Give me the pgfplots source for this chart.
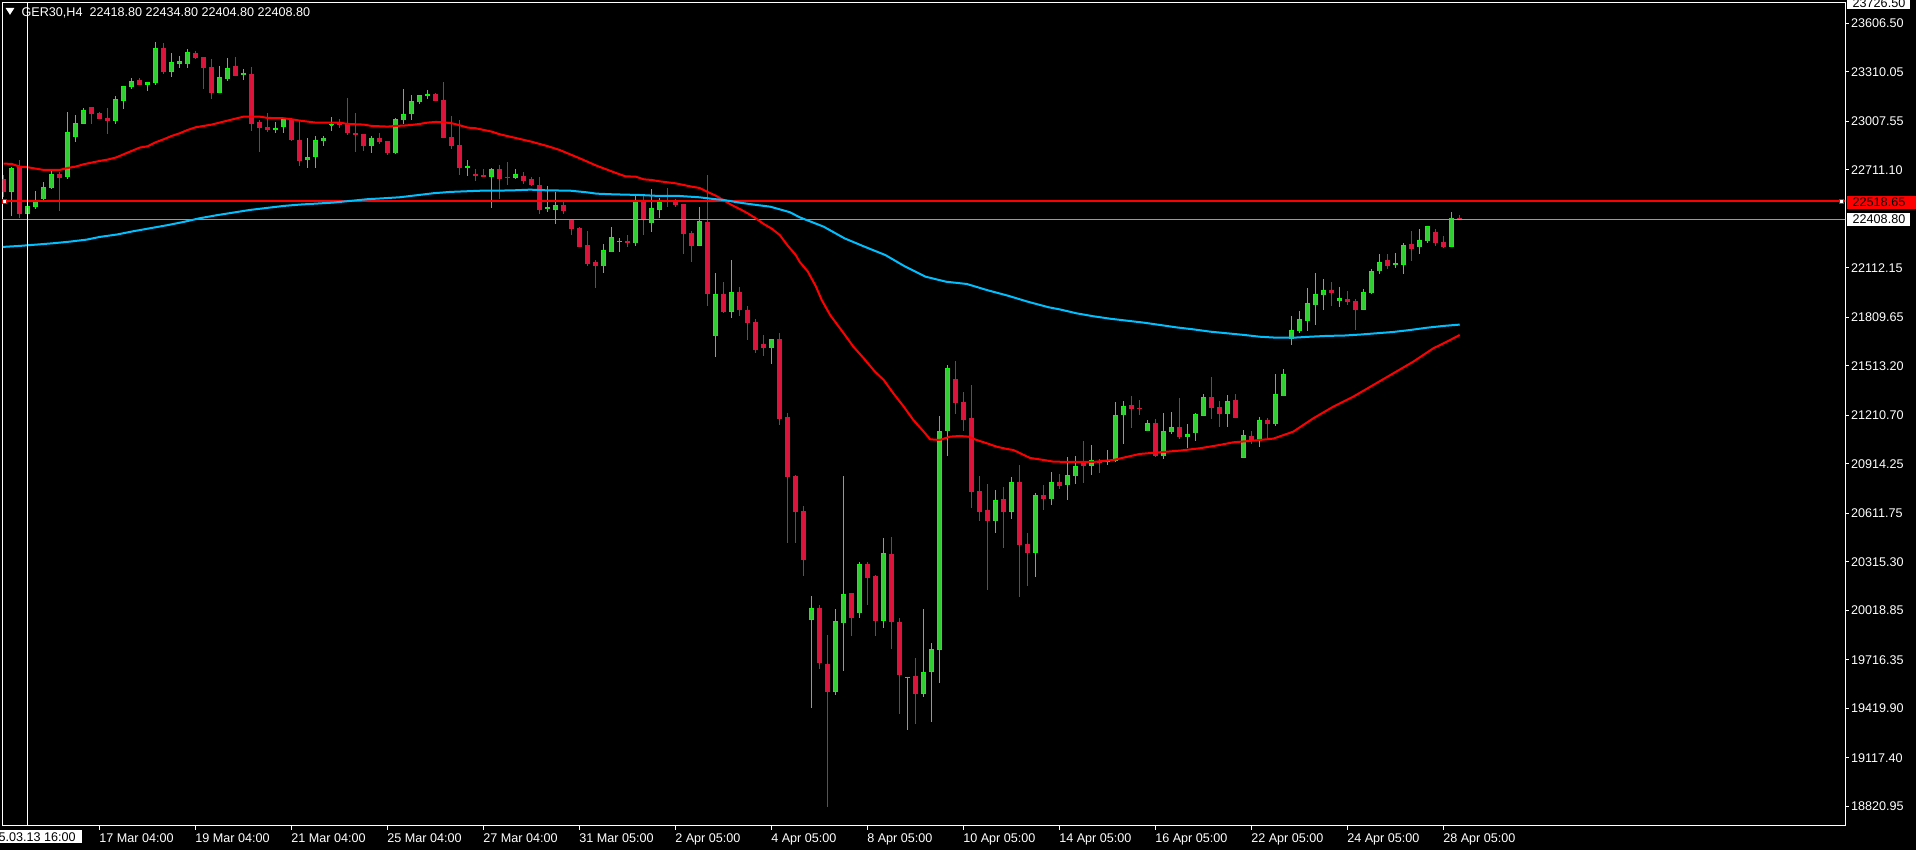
\documentclass[border=0pt]{standalone}
\usepackage{fontspec}
\setmainfont{Liberation Sans}
\usepackage{pgfplots}
\usepackage{pgfplotstable}
\pgfplotsset{compat=1.18}

\definecolor{upwick}{HTML}{00FF00}
\definecolor{upbody}{HTML}{32CD32}
\definecolor{down}{HTML}{DC143C}
\definecolor{mared}{HTML}{FF0000}
\definecolor{mablue}{HTML}{00BFFF}
\definecolor{bidline}{HTML}{9A9A9A}
\newcommand{\tf}{\fontsize{6.3}{7.5}\selectfont}

% GER30 H4 candles: index, open, high, low, close
\pgfplotstableread{
i o h l c
1 22578 22730 22431 22720
3 22443 22490 22443 22490
4 22486 22580 22474 22517
5 22533 22635 22527 22606
6 22600 22704 22594 22685
8 22669 23064 22653 22942
9 22914 23046 22881 22995
10 22993 23087 22993 23076
14 23011 23162 22993 23144
15 23133 23223 23085 23223
16 23219 23270 23207 23254
18 23233 23247 23194 23247
19 23243 23492 23229 23455
21 23311 23425 23280 23370
22 23363 23406 23335 23376
23 23359 23447 23335 23431
27 23182 23345 23182 23278
28 23266 23394 23256 23333
30 23290 23327 23262 23304
34 22954 23003 22936 22966
35 22975 23028 22936 23021
38 22771 22905 22724 22789
39 22791 22918 22724 22893
40 22887 22918 22857 22907
41 22985 23032 22950 22991
46 22857 22918 22814 22907
49 22814 23028 22808 23021
50 23015 23205 22991 23052
51 23052 23168 23015 23131
52 23125 23168 23113 23168
53 23164 23199 23144 23174
58 22724 22771 22673 22734
61 22669 22722 22479 22716
64 22663 22716 22655 22685
68 22473 22612 22453 22481
69 22471 22575 22380 22496
75 22123 22257 22080 22221
76 22209 22361 22209 22300
77 22272 22294 22209 22276
79 22264 22551 22245 22516
81 22386 22593 22331 22477
82 22471 22538 22416 22514
87 22251 22483 22245 22398
89 21696 22080 21567 21952
91 21848 22160 21806 21964
96 21622 21677 21525 21677
101 19963 20107 19425 20034
104 19523 20028 19505 19955
105 19944 20840 19651 20119
107 20005 20315 19975 20303
110 19957 20462 19914 20370
113 19608 19615 19291 19615
115 19511 20028 19492 19643
116 19645 19820 19340 19784
117 19782 21207 19578 21115
118 21115 21518 20963 21500
124 20567 20755 20494 20694
126 20626 20834 20580 20804
129 20372 20736 20225 20724
131 20700 20865 20663 20804
133 20787 20956 20694 20846
134 20842 20962 20793 20901
136 20904 21030 20847 20938
138 20928 20999 20908 20938
139 20932 21292 20926 21213
140 21213 21299 21036 21268
143 21117 21182 21117 21164
145 20963 21225 20944 21115
146 21109 21231 21097 21140
148 21079 21158 21011 21097
149 21103 21225 21054 21219
150 21209 21341 21207 21323
153 21219 21335 21140 21299
155 20956 21121 20956 21091
157 21054 21201 21018 21182
159 21158 21463 21146 21341
160 21329 21494 21329 21463
161 21679 21818 21641 21732
162 21728 21848 21714 21799
163 21793 21989 21726 21897
164 21885 22080 21763 21952
165 21946 22044 21854 21977
167 21911 21995 21873 21928
170 21860 21983 21860 21964
171 21958 22105 21952 22093
172 22093 22196 22074 22148
174 22131 22203 22111 22141
175 22135 22264 22074 22251
177 22239 22349 22196 22282
178 22276 22367 22264 22367
181 22245 22453 22245 22419
}\upc

\pgfplotstableread{
i o h l c
0 22653 22679 22547 22578
2 22726 22771 22419 22443
7 22685 22700 22460 22663
11 23095 23095 22993 23054
12 23058 23066 23023 23023
13 23028 23089 22932 23009
17 23260 23270 23231 23231
20 23455 23484 23298 23309
24 23425 23437 23386 23394
25 23400 23400 23207 23335
26 23339 23388 23144 23182
29 23345 23400 23286 23286
31 23296 23339 22950 22991
32 23003 23015 22822 22966
33 22973 23058 22944 22956
36 23021 23028 22889 22893
37 22893 23015 22734 22767
42 22995 23021 22969 22985
43 22999 23150 22926 22936
44 22936 23058 22820 22924
45 22930 22930 22826 22857
47 22905 22936 22869 22881
48 22887 22887 22802 22814
54 23174 23180 23131 23131
55 23137 23247 22905 22905
56 22911 23040 22838 22857
57 22863 23015 22679 22722
59 22685 22716 22643 22673
60 22679 22716 22671 22671
62 22716 22740 22532 22655
63 22667 22758 22618 22663
65 22673 22697 22624 22648
66 22655 22667 22612 22618
67 22618 22667 22441 22471
70 22496 22514 22441 22459
71 22404 22404 22312 22349
72 22355 22361 22245 22245
73 22251 22337 22123 22141
74 22148 22160 21989 22123
78 22276 22312 22239 22264
80 22516 22551 22312 22408
83 22526 22600 22483 22514
84 22520 22532 22483 22496
85 22502 22502 22196 22319
86 22325 22337 22148 22251
88 22392 22679 21879 21952
90 21952 22025 21836 21848
92 21964 21995 21818 21860
93 21854 21879 21671 21775
94 21781 21799 21592 21610
95 21647 21702 21573 21622
97 21677 21714 21152 21189
98 21201 21225 20431 20834
99 20840 20847 20431 20621
100 20626 20657 20229 20329
102 20034 20052 19663 19700
103 19692 19869 18821 19523
106 20126 20126 19865 19975
108 20303 20315 20054 20219
109 20229 20236 19865 19957
111 20364 20468 19786 19951
112 19948 19973 19389 19627
114 19619 19729 19327 19511
119 21433 21543 21219 21286
120 21292 21353 21115 21188
121 21195 21396 20647 20744
122 20749 20840 20567 20626
123 20633 20791 20146 20567
125 20700 20773 20403 20626
127 20804 20907 20103 20421
128 20427 20492 20170 20372
130 20724 20785 20633 20700
132 20804 20852 20761 20785
135 20920 21054 20796 20904
137 20930 20944 20859 20924
141 21274 21329 21134 21250
142 21256 21305 21213 21252
144 21164 21189 20956 20963
147 21140 21317 21066 21079
151 21323 21445 21189 21256
152 21262 21299 21140 21219
154 21305 21341 21195 21195
156 21085 21115 21036 21054
158 21182 21195 21060 21158
166 21977 22025 21879 21958
168 21922 21970 21885 21903
169 21909 21922 21732 21860
173 22160 22196 22105 22129
176 22257 22337 22154 22227
179 22331 22349 22245 22264
180 22270 22306 22233 22245
182 22418.8 22434.8 22404.8 22408.8
}\downc

\begin{document}
\begin{tikzpicture}[x=1pt,y=1pt]
\fill[black] (0,0) rectangle (958,425);
\useasboundingbox (0,0) rectangle (958,425);
\begin{axis}[
    at={(1.35pt,12pt)}, anchor=south west,
    scale only axis, width=921.15pt, height=411.5pt,
    xmin=-0.125, xmax=230.16, ymin=18702, ymax=23729.7,
    axis line style={white, line width=0.5pt},
    tick align=outside, major tick length=1.8pt,
    xtick pos=left, ytick pos=right, yticklabel pos=right,
    tick style={white, line width=0.5pt},
    xtick={12,24,...,180},
    xticklabels={17 Mar 04:00,19 Mar 04:00,21 Mar 04:00,25 Mar 04:00,27 Mar 04:00,31 Mar 05:00,2 Apr 05:00,4 Apr 05:00,8 Apr 05:00,10 Apr 05:00,14 Apr 05:00,16 Apr 05:00,22 Apr 05:00,24 Apr 05:00,28 Apr 05:00},
    ytick={23606.5,23310.05,23007.55,22711.10,22112.15,21809.65,21513.20,21210.70,20914.25,20611.75,20315.30,20018.85,19716.35,19419.90,19117.40,18820.95},
    yticklabels={23606.50,23310.05,23007.55,22711.10,22112.15,21809.65,21513.20,21210.70,20914.25,20611.75,20315.30,20018.85,19716.35,19419.90,19117.40,18820.95},
    ticklabel style={font=\tf, text=white, inner sep=0pt},
    xticklabel style={anchor=north west, xshift=-0.4pt, yshift=-2.1pt},
    yticklabel style={anchor=west, xshift=1pt},
]
% wicks
\addplot[draw=none, mark=none, forget plot, error bars/.cd, y dir=minus, y explicit, error mark=none,
    error bar style={draw=upwick, line width=0.5pt}]
    table[x=i, y=h, y error minus expr=\thisrow{h}-\thisrow{l}] {\upc};
\addplot[draw=none, mark=none, forget plot, error bars/.cd, y dir=minus, y explicit, error mark=none,
    error bar style={draw=down, line width=0.5pt}]
    table[x=i, y=h, y error minus expr=\thisrow{h}-\thisrow{l}] {\downc};
% bodies
\addplot[draw=none, mark=none, forget plot, error bars/.cd, y dir=minus, y explicit, error mark=none,
    error bar style={draw=upwick, line width=2.5pt}]
    table[x=i, y=c, y error minus expr=\thisrow{c}-\thisrow{o}+3] {\upc};
\addplot[draw=none, mark=none, forget plot, error bars/.cd, y dir=minus, y explicit, error mark=none,
    error bar style={draw=upbody, line width=1.5pt}]
    table[x=i, y expr=\thisrow{c}-4, y error minus expr=\thisrow{c}-\thisrow{o}-5] {\upc};
\addplot[draw=none, mark=none, forget plot, error bars/.cd, y dir=minus, y explicit, error mark=none,
    error bar style={draw=down, line width=2.5pt}]
    table[x=i, y=o, y error minus expr=\thisrow{o}-\thisrow{c}+3] {\downc};

% horizontal line and bid line
\addplot[bidline, line width=0.5pt, forget plot] coordinates {(-1,22408.8) (231,22408.8)};
\addplot[mared, line width=0.9pt, forget plot] coordinates {(-1,22518.65) (231,22518.65)};
\addplot[only marks, mark=square*, mark size=1pt, mark options={draw=mared, fill=white, line width=0.5pt}, forget plot]
    coordinates {(0.1,22518.65) (229.7,22518.65)};

% moving averages
\addplot[mared, line width=1pt] coordinates {
(0,22748.6) (1,22746.5) (2,22730.2) (3,22726.2) (4,22718) (5,22709.9) (7,22709.9) (8,22722.1) (9,22730.2)
(10,22744.5) (11,22754.7) (12,22764.9) (13,22773) (14,22785.2) (15,22805.6) (16,22825.9) (17,22846.3)
(18,22854.4) (19,22878.9) (20,22897.2) (21,22917.6) (22,22933.8) (23,22954.2) (24,22970.5) (25,22978.6)
(26,22986.8) (27,22999) (28,23011.2) (29,23023.4) (30,23035.6) (32,23035.6) (33,23027.5) (35,23025.5)
(36,23019.4) (37,23011.2) (38,23005.1) (39,22999) (42,22999) (43,22990.8) (45,22986.8) (46,22978.6)
(48,22974.6) (49,22978.6) (50,22980.7) (51,22984.7) (52,22990.8) (53,22999) (54,23003) (55,23001)
(56,22994.9) (57,22982.7) (58,22968.5) (59,22964.4) (60,22954.2) (61,22944) (62,22927.7) (64,22905)
(66,22882) (68,22855) (69.5,22831.6) (72,22780.7) (74.1,22735.9) (76.2,22697.2) (77.7,22670.8)
(79,22668.7) (80,22652.4) (81,22648.4) (82,22640.2) (83,22634.1) (84,22628) (85,22617.8) (86,22607.6)
(87,22599.5) (88,22575) (89,22552.7) (90,22524.2) (91,22495.7) (92,22471.2) (93,22444.8) (94,22414.2)
(95,22379.6) (96,22351.1) (97,22312.4) (98,22247.3) (99,22190.3) (99.5,22147.5) (100.5,22090)
(101.5,22000) (102.25,21915.3) (103.3,21823.7) (105,21711.7) (106.2,21630.3) (107.5,21559)
(108.9,21477.6) (110,21426.7) (111.2,21345.2) (112.5,21263.8) (113.7,21182.3) (115,21111.1)
(115.8,21064.3) (117,21060.2) (118.3,21080.5) (119.5,21084.6) (120.6,21080.5) (121.6,21060.2)
(122.9,21039.8) (124.1,21019.5) (125.4,21005.2) (126.2,20999.1) (127.5,20968.6) (128.3,20950.2)
(130,20938) (131.2,20927.8) (133.7,20925.8) (136.2,20925.9) (138.7,20938) (142,20974.8) (144.5,20985)
(147,20995.1) (149.5,21009.4) (152,21029.8) (153.7,21046) (156.2,21056.2) (158.7,21068.4)
(161.2,21111.2) (163.7,21192.6) (166.2,21263.9) (168.7,21325) (171.2,21396.2) (173.7,21467.5)
(176.2,21538.7) (178.7,21620.2) (180.4,21660.9) (182,21701.6)
};
\addplot[mablue, line width=1pt] coordinates {
(-0.1,22239.6) (2,22245.7) (4.1,22253.8) (6.2,22262) (8.3,22272) (10.4,22284.4) (12,22300.6)
(14.1,22314.9) (16.2,22335.3) (18.3,22353.6) (20.4,22371.9) (22.5,22392.3) (24.5,22414.7) (26.6,22433)
(28.7,22449.3) (30.8,22465.6) (32.9,22477.8) (35,22490) (37,22498.1) (39.1,22504.2) (41.2,22510.4)
(43.3,22520.5) (45.4,22530.7) (47.5,22536.8) (49.5,22542.9) (51.6,22555.1) (53.7,22567.4)
(55.8,22575.5) (57.9,22579.6) (60,22583.6) (62,22583.6) (63.7,22585.2) (65.8,22589.3) (67.9,22585.2)
(70.8,22583.2) (72.9,22573) (74.1,22564.9) (76.2,22560.8) (79.5,22556.7) (82,22550.6) (84.5,22550.6)
(87,22542.5) (88.7,22532.3) (90,22526.2) (92,22509.9) (94.1,22495.7) (95.8,22485.5) (97,22469.2)
(98.3,22450.9) (99.5,22420.3) (102.5,22363) (105.1,22292) (107.6,22241) (110.2,22190) (112.7,22119)
(115.2,22058) (117.8,22027) (120.4,22013) (122.9,21976) (125.5,21942) (128,21905) (130.6,21871)
(132,21858) (134.1,21834) (136.2,21816) (138.3,21801) (140.4,21789) (142.5,21777) (144.5,21763)
(146.6,21748) (148.7,21736) (150.8,21722) (152.9,21712) (155,21702) (157,21691) (159.1,21685)
(161.2,21685) (163.3,21691) (165.4,21696) (167.5,21698) (169.5,21704) (171.6,21712) (173.7,21720)
(175.8,21732) (177.9,21746) (180,21757) (182,21765)
};
% crosshair
\draw[white, line width=0.5pt] (axis cs:2.95,18702) -- (axis cs:2.95,23729.7);
\end{axis}

% header
\fill[white] (2.8,421) -- (7.2,421) -- (5,417.6) -- cycle;
\node[anchor=west, inner sep=0pt, text=white, font=\tf] at (10.6,418.7)
    {GER30,H4\ \ 22418.80 22434.80 22404.80 22408.80};

% price boxes on the right scale
\fill[white] (923.35,420.5) rectangle (955,428);
\node[anchor=west, inner sep=0pt, text=black, font=\tf] at (926.15,423.6) {23726.50};
\fill[mared] (923.35,320.5) rectangle (958,327.15);
\node[anchor=west, inner sep=0pt, text=black, font=\tf] at (926.15,323.8) {22518.65};
\fill[white] (923.35,312.15) rectangle (955,318.35);
\node[anchor=west, inner sep=0pt, text=black, font=\tf] at (926.15,315.25) {22408.80};

% crosshair date box
\fill[white] (0,3.35) rectangle (40.85,10);
\node[anchor=east, inner sep=0pt, text=black, font=\tf] at (38,6.3) {2025.03.13 16:00};
\end{tikzpicture}
\end{document}
